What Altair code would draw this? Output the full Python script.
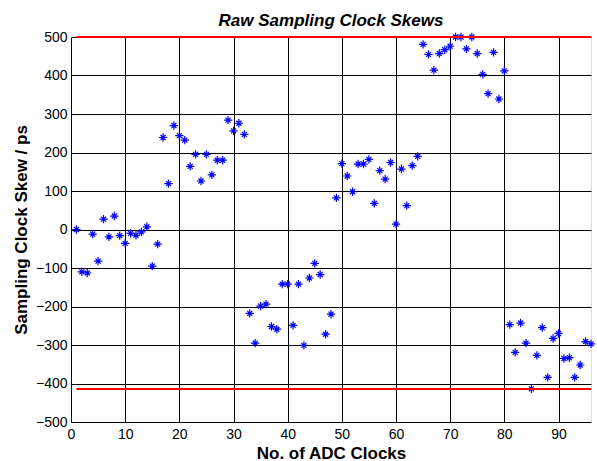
import altair as alt
import pandas as pd

clock_index = list(range(1, 97))
skew_ps = [
    0, -110, -113, -12, -82, 27, -19, 35, -16, -36,
    -10, -15, -6, 7, -95, -38, 239, 119, 270, 244,
    232, 164, 195, 126, 195, 142, 180, 180, 284, 256,
    276, 247, -218, -295, -199, -194, -252, -259, -142, -142,
    -249, -142, -301, -126, -88, -117, -272, -220, 82, 171,
    139, 98, 170, 170, 182, 68, 153, 131, 174, 14,
    157, 62, 166, 190, 481, 455, 414, 457, 467, 476,
    500, 500, 469, 500, 457, 403, 353, 460, 339, 412,
    -247, -319, -243, -295, -414, -327, -255, -384, -283, -270,
    -335, -333, -384, -352, -291, -297,
]
x_ticks = [0, 10, 20, 30, 40, 50, 60, 70, 80, 90]
y_ticks = [-500, -400, -300, -200, -100, 0, 100, 200, 300, 400, 500]

df = pd.DataFrame({"x": clock_index, "y": skew_ps})
limits = pd.DataFrame({
    "x": [clock_index[0], clock_index[0]],
    "x2": [clock_index[-1], clock_index[-1]],
    "y": [max(skew_ps), min(skew_ps)],
})

FONT = "Liberation Sans"

xscale = alt.Scale(domain=[0, 96], nice=False, zero=False)
yscale = alt.Scale(domain=[-500, 500], nice=False, zero=False)

xaxis = alt.Axis(values=x_ticks, title="No. of ADC Clocks", grid=True, gridColor="#000000",
                 gridOpacity=1, gridWidth=1, ticks=False, domain=False,
                 labelFont=FONT, labelFontSize=14, labelColor="#000000", labelPadding=5,
                 labelFlush=False, labelOverlap=False,
                 titleFont=FONT, titleFontSize=17, titleFontWeight="bold", titleColor="#000000",
                 titlePadding=4)
yaxis = alt.Axis(values=y_ticks, title="Sampling Clock Skew / ps", grid=True, gridColor="#000000",
                 gridOpacity=1, gridWidth=1, ticks=False, domain=False,
                 labelFont=FONT, labelFontSize=14, labelColor="#000000", labelPadding=4,
                 labelFlush=False, labelOverlap=False,
                 titleFont=FONT, titleFontSize=17, titleFontWeight="bold", titleColor="#000000",
                 titlePadding=5)

star = "M-1,0L1,0M0,-1L0,1M-0.6,-0.6L0.6,0.6M-0.6,0.6L0.6,-0.6"

points = alt.Chart(df).mark_point(
    shape=star, filled=False, stroke="#0000ff", strokeWidth=1.2, size=70, opacity=1
).encode(
    x=alt.X("x:Q", scale=xscale, axis=xaxis),
    y=alt.Y("y:Q", scale=yscale, axis=yaxis),
)

rules = alt.Chart(limits).mark_rule(color="#ff0000", strokeWidth=2).encode(
    x=alt.X("x:Q", scale=xscale, axis=xaxis),
    x2="x2:Q",
    y=alt.Y("y:Q", scale=yscale, axis=yaxis),
)

chart = alt.layer(points, rules).properties(
    width=520,
    height=385,
    title=alt.TitleParams("Raw Sampling Clock Skews", font=FONT, fontSize=17, fontWeight="bold",
                          fontStyle="italic", color="#000000", anchor="middle",
                          baseline="alphabetic", frame="group", offset=-13),
    autosize=alt.AutoSizeParams(type="none"),
    padding={"left": 71, "top": 37, "right": 6, "bottom": 39},
).configure_view(stroke="#000000", strokeWidth=1).configure(background="#ffffff")

chart.save("out.html", embed_options={"renderer": "svg", "actions": False})
